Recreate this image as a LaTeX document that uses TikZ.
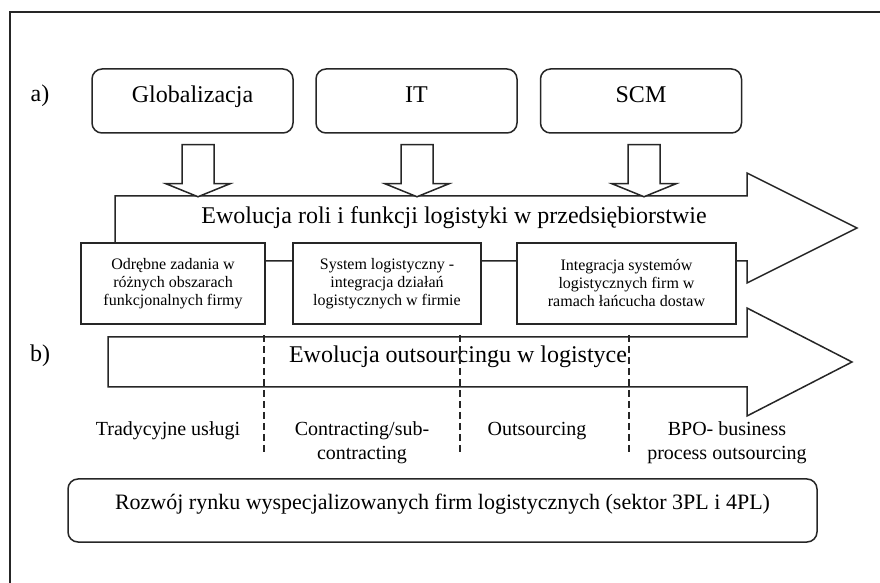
\documentclass[tikz,border=0pt]{standalone}
\usepackage{fontspec}
\setmainfont{Liberation Serif}
\usetikzlibrary{arrows.meta}
\newcommand{\blockArrowDown}[2]{
  \begin{scope}[shift={(#1.south)}]
    \draw[blockarrow] (#2-16,11) -- (#2-16,50) -- (#2-32,50) -- (#2,63)
      -- (#2+32,50) -- (#2+16,50) -- (#2+16,11) -- cycle;
  \end{scope}
}

\begin{document}
\begin{tikzpicture}[
    x=0.5pt, y=-0.5pt,
    line width=0.75pt,
    font=\fontsize{12}{14.4}\selectfont,
    every node/.style={align=center},
    topbox/.style={draw=black!85, rounded corners=5pt, fill=white,
      minimum width=100.5pt, minimum height=32pt, text height=9pt,
      text depth=7pt, inner sep=2pt},
    stagebox/.style={draw=black!85, fill=white, minimum height=40.5pt,
      inner sep=2pt, font=\fontsize{8}{9}\selectfont},
    bigarrow/.style={draw=black!85, fill=white, line join=miter},
    blockarrow/.style={draw=black!85, fill=white, line join=miter},
    divider/.style={draw=black!85, dash pattern=on 3.5pt off 2pt},
    phase/.style={anchor=north, inner sep=0pt, font=\fontsize{10}{12}\selectfont},
]
\useasboundingbox (0,0) rectangle (880,583);

% ---- frame ----
\draw[black!85] (10,583) -- (10,12) -- (880,12);

% ---- a) drivers ----
\node (lblA) at (40,96) {a)};
\node[topbox] (glob) at (192.5,101) {Globalizacja};
\node[topbox] (it) at (416.5,101) {IT};
\node[topbox] (scm) at (641,101) {SCM};

% ---- a) evolution arrow ----
\draw[bigarrow] (115,261) -- (115,196) -- (747,196) -- (747,173) -- (857,228)
  -- (747,283) -- (747,261) -- cycle;
\node (roleTxt) at (454,218) {Ewolucja roli i funkcji logistyki w przedsiębiorstwie};

\blockArrowDown{glob}{5.5}
\blockArrowDown{it}{0.5}
\blockArrowDown{scm}{3}

% ---- stages ----
\node[stagebox, minimum width=92pt] (stage1) at (173,283.5)
  {Odrębne zadania w\\różnych obszarach\\funkcjonalnych firmy};
\node[stagebox, minimum width=94pt] (stage2) at (387,283.5)
  {System logistyczny -\\integracja działań\\logistycznych w firmie};
\node[stagebox, minimum width=109.5pt] (stage3) at (626.5,283.5)
  {Integracja systemów\\logistycznych firm w\\ramach łańcucha dostaw};

% ---- b) outsourcing arrow ----
\node (lblB) at (40,356) {b)};
\draw[bigarrow] (108,337) -- (747,337) -- (747,308) -- (852,362) -- (747,416)
  -- (747,387) -- (108,387) -- cycle;
\node (outTxt) at (458,357) {Ewolucja outsourcingu w logistyce};

\foreach \x in {264,460,629}{
  \draw[divider] (\x,335) -- (\x,453);
}

\node[phase] (trad) at (168,418) {\strut Tradycyjne usługi};
\node[phase] (contr) at (362,418) {\strut Contracting/sub-\\contracting};
\node[phase] (outs) at (537,418) {\strut Outsourcing};
\node[phase] (bpo) at (727,418) {\strut BPO- business\\process outsourcing};

% ---- market ----
\node[draw=black!85, rounded corners=5pt, minimum width=374.5pt,
      minimum height=31.5pt, text height=8pt, text depth=9.3pt, inner sep=2pt,
      font=\fontsize{11}{13}\selectfont] (market) at (442.5,510.5)
      {Rozwój rynku wyspecjalizowanych firm logistycznych (sektor 3PL i 4PL)};

\end{tikzpicture}
\end{document}
